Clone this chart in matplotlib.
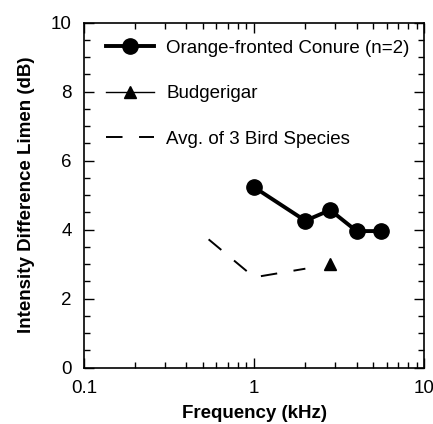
import matplotlib
matplotlib.use("Agg")
import matplotlib.pyplot as plt
from matplotlib.ticker import FixedLocator, NullFormatter, MultipleLocator

plt.rcParams['font.family'] = ['Liberation Sans', 'DejaVu Sans']

# Data
conure_freq = [1.0, 2.0, 2.8, 4.0, 5.6]
conure_idl = [5.23, 4.26, 4.57, 3.96, 3.96]
budgie_freq = [2.8]
budgie_idl = [3.02]
avg_freq = [0.54, 1.0, 2.0]
avg_idl = [3.72, 2.62, 2.87]
labels = ["Orange-fronted Conure (n=2)", "Budgerigar", "Avg. of 3 Bird Species"]
xticks = [0.1, 1, 10]
xticklabels = ["0.1", "1", "10"]
yticks = [0, 2, 4, 6, 8, 10]

fig = plt.figure(figsize=(4.33, 4.24), dpi=100)
ax = fig.add_axes([84/433, 1-367.7/424, (424.3-84)/433, (367.7-22.7)/424])

ax.plot(conure_freq, conure_idl, '-o', color='black', lw=2.8, ms=11, label=labels[0])
ax.plot(budgie_freq, budgie_idl, '-^', color='black', lw=1.0, ms=9, label=labels[1])
ax.plot(avg_freq, avg_idl, color='black', lw=1.4, dashes=(8.5, 8.5), label=labels[2])

ax.set_xscale('log')
ax.set_xlim(0.1, 10)
ax.set_ylim(0, 10)
ax.xaxis.set_major_locator(FixedLocator(xticks))
ax.set_xticklabels(xticklabels)
minors = [m * d for d in (0.1, 1) for m in range(2, 10)]
ax.xaxis.set_minor_locator(FixedLocator(minors))
ax.xaxis.set_minor_formatter(NullFormatter())
ax.yaxis.set_major_locator(FixedLocator(yticks))
ax.yaxis.set_minor_locator(MultipleLocator(0.5))

ax.tick_params(which='both', direction='in', top=True, right=True, width=1.0)
ax.tick_params(which='major', length=7, labelsize=13.5, pad=9)
ax.tick_params(which='minor', length=4)
for s in ax.spines.values():
    s.set_linewidth(1.2)

ax.set_xlabel("Frequency (kHz)", fontsize=13.5, fontweight='bold', labelpad=5.5)
ax.set_ylabel("Intensity Difference Limen (dB)", fontsize=13.5, fontweight='bold', labelpad=11.5)

leg = ax.legend(loc='upper left', bbox_to_anchor=(0.066, 0.951), frameon=False,
                fontsize=13.5, handlelength=2.56, handletextpad=0.62,
                labelspacing=1.52, borderpad=0, borderaxespad=0, markerscale=1.0)

fig.savefig("out.png", dpi=100)
